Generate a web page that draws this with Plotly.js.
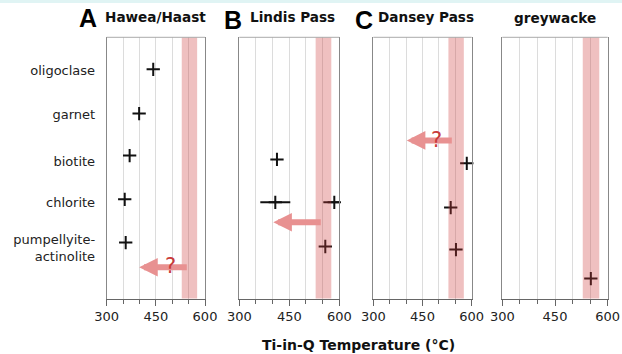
<!DOCTYPE html>
<html><head><meta charset="utf-8">
<script src="https://cdn.plot.ly/plotly-3.0.1.min.js"></script>
<style>html,body{margin:0;padding:0;background:#fff}</style>
</head><body><div id="chart" style="width:622px;height:354px"></div>
<script>
// ---- data ----
const minerals = ['oligoclase', 'garnet', 'biotite', 'chlorite', 'pumpellyite-<br>actinolite'];
const labelRows = [4.98, 3.96, 2.88, 1.93, 0.87];

const panelNames = ['Hawea/Haast', 'Lindis Pass', 'Dansey Pass', 'greywacke'];
const panelLetters = ['A', 'B', 'C', ''];

// A  Hawea/Haast
const aTemp = [442, 399, 370, 355, 358];
const aRow  = [5.0, 3.98, 3.01, 2.0, 1.0];
// B  Lindis Pass
const bTemp = [413, 408, 585, 558];
const bRow  = [2.92, 1.93, 1.93, 0.91];
const bErrPlus  = [0, 45, 36, 0];
const bErrMinus = [0, 45, 33, 0];
// C  Dansey Pass
const cTemp = [585, 536, 552];
const cRow  = [2.83, 1.81, 0.84];
// D  greywacke
const dTemp = [552];
const dRow  = [0.17];

// temperature band
const bandTemp = [529, 576];

// arrows (A, B, C)
const arrowTip  = [399, 402, 402];
const arrowTail = [549, 549, 544];
const arrowRow  = [0.43, 1.47, 3.36];
const arrowAxis = ['', '2', '3'];
// question marks (A, C)
const qTemp = [495, 494];
const qRow  = [0.47, 3.38];
const qAxis = ['', '3'];

const xTicks = [300, 450, 600];

// ---- layout helpers ----
const W = 622, H = 354;
const xDomains = [[106.7/W, 205/W], [239.3/W, 339.3/W], [373.3/W, 471.7/W], [502.3/W, 607.7/W]];
const yDomain = [1 - 298.5/H, 1 - 37.3/H];
const yRange = [-0.29, 5.74];
const tickFont = {family: 'DejaVu Sans', size: 13, color: '#222'};

function xax(i) {
  const s = i === 0 ? '' : String(i + 1);
  return {
    domain: xDomains[i], anchor: 'y' + s, range: [300, 600],
    tickmode: 'array', tickvals: xTicks,
    ticks: 'outside', ticklen: 6, tickcolor: '#666', tickwidth: 1,
    showline: true, linecolor: '#666', linewidth: 1,
    showgrid: true, gridcolor: '#dcdcdc', gridwidth: 1, zeroline: false,
    minor: {dtick: 50, tick0: 300, ticks: 'outside', ticklen: 4, tickcolor: '#666',
            showgrid: true, gridcolor: '#dcdcdc', gridwidth: 1},
    tickfont: tickFont, fixedrange: true
  };
}
function yax(i) {
  const s = i === 0 ? '' : String(i + 1);
  return {
    domain: yDomain, anchor: 'x' + s, range: yRange,
    showgrid: false, zeroline: false, showline: true, mirror: true,
    linecolor: '#888', linewidth: 1, ticks: '',
    tickmode: 'array', tickvals: labelRows, ticktext: minerals,
    showticklabels: i === 0, tickfont: tickFont, ticklabelstandoff: 8,
    fixedrange: true
  };
}

const marker = {symbol: 'cross-thin', size: 9.5, line: {width: 2, color: '#111'}, color: '#111'};
function tr(x, y, i, extra) {
  const s = i === 0 ? '' : String(i + 1);
  return Object.assign({type: 'scatter', mode: 'markers', x: x, y: y,
    xaxis: 'x' + s, yaxis: 'y' + s, marker: marker, cliponaxis: false,
    hoverinfo: 'skip', showlegend: false}, extra || {});
}

const data = [
  tr(aTemp, aRow, 0),
  tr(bTemp, bRow, 1, {error_x: {type: 'data', array: bErrPlus, arrayminus: bErrMinus,
       symmetric: false, thickness: 2, width: 0, color: '#111'}}),
  tr(cTemp, cRow, 2),
  tr(dTemp, dRow, 3)
];

const layout = {
  width: W, height: H, margin: {l: 0, r: 0, t: 0, b: 0},
  paper_bgcolor: '#fff', plot_bgcolor: '#fff', showlegend: false,
  shapes: [], annotations: []
};
for (let i = 0; i < 4; i++) {
  const s = i === 0 ? '' : String(i + 1);
  layout['xaxis' + s] = xax(i);
  layout['yaxis' + s] = yax(i);
  layout.shapes.push({type: 'rect', xref: 'x' + s, yref: 'y' + s + ' domain',
    x0: bandTemp[0], x1: bandTemp[1], y0: 0, y1: 1, layer: 'above',
    fillcolor: 'rgba(205,60,60,0.32)', line: {width: 0}});
  layout.shapes.push({type: 'line', xref: 'x' + s + ' domain', yref: 'y' + s + ' domain',
    x0: 0, x1: 1, y0: 1, y1: 1, line: {color: '#aaa', width: 1}});
}
// light strip at top of image
layout.shapes.push({type: 'rect', xref: 'paper', yref: 'paper', x0: 0, x1: 1,
  y0: 1 - 3/H, y1: 1, fillcolor: '#e0f4f4', line: {width: 0}, layer: 'below'});

// arrows
for (let k = 0; k < arrowTip.length; k++) {
  const s = arrowAxis[k];
  layout.annotations.push({xref: 'x' + s, yref: 'y' + s, axref: 'x' + s, ayref: 'y' + s,
    x: arrowTip[k], y: arrowRow[k], ax: arrowTail[k], ay: arrowRow[k], text: '',
    showarrow: true, arrowhead: 2, arrowsize: 0.62, arrowwidth: 6, arrowcolor: '#e89191'});
}
for (let k = 0; k < qTemp.length; k++) {
  const s = qAxis[k];
  layout.annotations.push({xref: 'x' + s, yref: 'y' + s, x: qTemp[k], y: qRow[k],
    text: '?', showarrow: false, font: {family: 'DejaVu Sans', size: 21, color: '#c93b3b'}});
}
// panel titles
const letterX = [88, 233, 364];
const letterY = [18, 20, 20];
const nameX = [155.5, 292, 426, 555];
const nameY = [17, 17, 17, 17.5];
for (let i = 0; i < 4; i++) {
  if (panelLetters[i]) {
    layout.annotations.push({xref: 'paper', yref: 'paper', x: letterX[i]/W, y: 1 - letterY[i]/H,
      text: panelLetters[i], showarrow: false, xanchor: 'center', yanchor: 'middle',
      font: {family: 'Liberation Sans', size: 25, color: '#000', weight: 'bold'}});
  }
  layout.annotations.push({xref: 'paper', yref: 'paper', x: nameX[i]/W, y: 1 - nameY[i]/H,
    text: '<b>' + panelNames[i] + '</b>', showarrow: false, xanchor: 'center', yanchor: 'middle',
    font: {family: 'DejaVu Sans', size: 13.6, color: '#111'}});
}
// axis title
layout.annotations.push({xref: 'paper', yref: 'paper', x: 358/W, y: 1 - 345/H,
  text: '<b>Ti-in-Q Temperature (°C)</b>', showarrow: false, xanchor: 'center', yanchor: 'middle',
  font: {family: 'DejaVu Sans', size: 14, color: '#111'}});

Plotly.newPlot('chart', data, layout, {displayModeBar: false, staticPlot: true});
</script>
</body></html>
